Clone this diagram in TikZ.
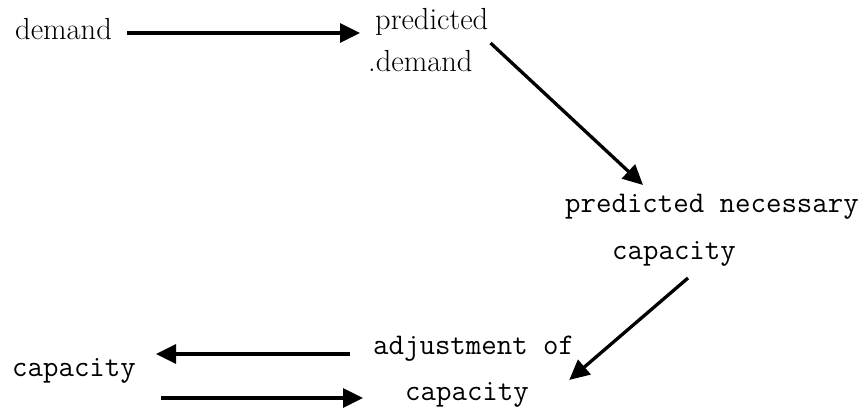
\documentclass[tikz,border=0pt]{standalone}
\usepackage{fontspec}
\usetikzlibrary{positioning, arrows.meta}

\begin{document}
\begin{tikzpicture}[x=1pt, y=1pt,
    every node/.style={
    inner sep=0pt,
    anchor=base west},
    serif/.style={font=\fontsize{30.5}{36}\rmfamily},
    typed/.style={font=\fontsize{30}{36}\ttfamily},
    flow/.style={line width=3.3pt,
    -{Triangle[length=20pt, width=19pt]}}]

    \useasboundingbox (0,0) rectangle (864,412);

    \node[serif] (dem) at (15,372) {demand};
    \node[serif] (pred) at (375,382) {predicted};
    \node[serif] (preddem) at (368,340) {.demand};

    \node[typed] (pnec) at (565,199) {predicted necessary};
    \node[typed] (pcap) at (612,152) {capacity};

    \node[typed] (adj) at (373,57) {adjustment of};
    \node[typed] (adjcap) at (405,12) {capacity};
    \node[typed] (cap) at (12,35) {capacity};

    \draw[flow] ([shift={(15,7)}]dem.base east) -- ([shift={(-15,-3)}]pred.base west);
    \draw[flow] ([shift={(2,-13)}]pred.base east) -- ([shift={(78,28)}]pnec.base west);
    \draw[flow] ([shift={(76,-18)}]pcap.base west) -- ([shift={(-5,-25)}]adj.base east);
    \draw[flow] ([shift={(-23,1)}]adj.base west) -- ([shift={(20,23)}]cap.base east);
    \draw[flow] ([shift={(25,-21)}]cap.base east) -- ([shift={(-42,2)}]adjcap.base west);
\end{tikzpicture}
\end{document}
